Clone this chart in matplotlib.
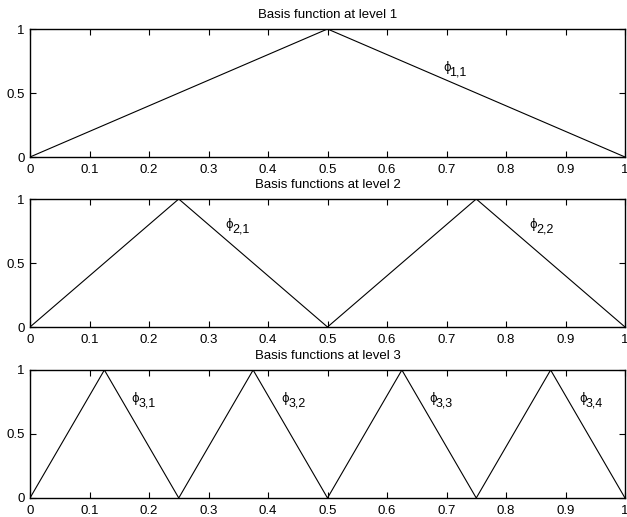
import matplotlib
matplotlib.use("Agg")
import matplotlib.pyplot as plt

plt.rcParams['font.family'] = ['Liberation Sans', 'DejaVu Sans']

# Data
titles = ["Basis function at level 1", "Basis functions at level 2", "Basis functions at level 3"]
x_level1 = [0, 0.5, 1]
y_level1 = [0, 1, 0]
x_level2 = [0, 0.25, 0.5, 0.75, 1]
y_level2 = [0, 1, 0, 1, 0]
x_level3 = [0, 0.125, 0.25, 0.375, 0.5, 0.625, 0.75, 0.875, 1]
y_level3 = [0, 1, 0, 1, 0, 1, 0, 1, 0]
labels1 = ["1,1"]
labels2 = ["2,1", "2,2"]
labels3 = ["3,1", "3,2", "3,3", "3,4"]
label_x1 = [0.694]
label_x2 = [0.329, 0.84]
label_x3 = [0.171, 0.423, 0.671, 0.923]
label_y1 = 0.70
label_y2 = 0.80
label_y3 = 0.78
xticks = [0, 0.1, 0.2, 0.3, 0.4, 0.5, 0.6, 0.7, 0.8, 0.9, 1]
xticklabels = ["0", "0.1", "0.2", "0.3", "0.4", "0.5", "0.6", "0.7", "0.8", "0.9", "1"]
yticks = [0, 0.5, 1]
yticklabels = ["0", "0.5", "1"]

W, H = 627, 517
fig = plt.figure(figsize=(W/100, H/100), dpi=100)

boxes = [(22, 29, 157), (22, 199, 327), (22, 370, 498)]
left_px, right_px = 30, 625
data = [(x_level1, y_level1, labels1, label_x1, label_y1),
        (x_level2, y_level2, labels2, label_x2, label_y2),
        (x_level3, y_level3, labels3, label_x3, label_y3)]

for i, (_, top, bot) in enumerate(boxes):
    ax = fig.add_axes([left_px/W, 1 - bot/H, (right_px-left_px)/W, (bot-top)/H])
    xs, ys, labs, lx, ly = data[i]
    ax.plot(xs, ys, color='black', linewidth=0.8)
    for lab, x in zip(labs, lx):
        ax.text(x, ly, '\u03d5', fontsize=8.5, ha='left', va='center',
                family=['DejaVu Sans'])
        ax.annotate(lab, (x, ly), xytext=(4.6, -3.8), textcoords='offset points',
                    fontsize=9, ha='left', va='center')
    ax.set_xlim(0, 1)
    ax.set_ylim(0, 1)
    ax.set_xticks(xticks)
    ax.set_xticklabels(xticklabels)
    ax.set_yticks(yticks)
    ax.set_yticklabels(yticklabels)
    ax.tick_params(direction='in', top=True, right=True, length=4, width=0.8,
                   labelsize=9.5)
    ax.tick_params(axis='x', pad=5)
    ax.tick_params(axis='y', pad=4)
    for s in ax.spines.values():
        s.set_linewidth(1.0)
    ax.set_title(titles[i], fontsize=9.5, pad=8)

fig.savefig("out.png", dpi=100)
